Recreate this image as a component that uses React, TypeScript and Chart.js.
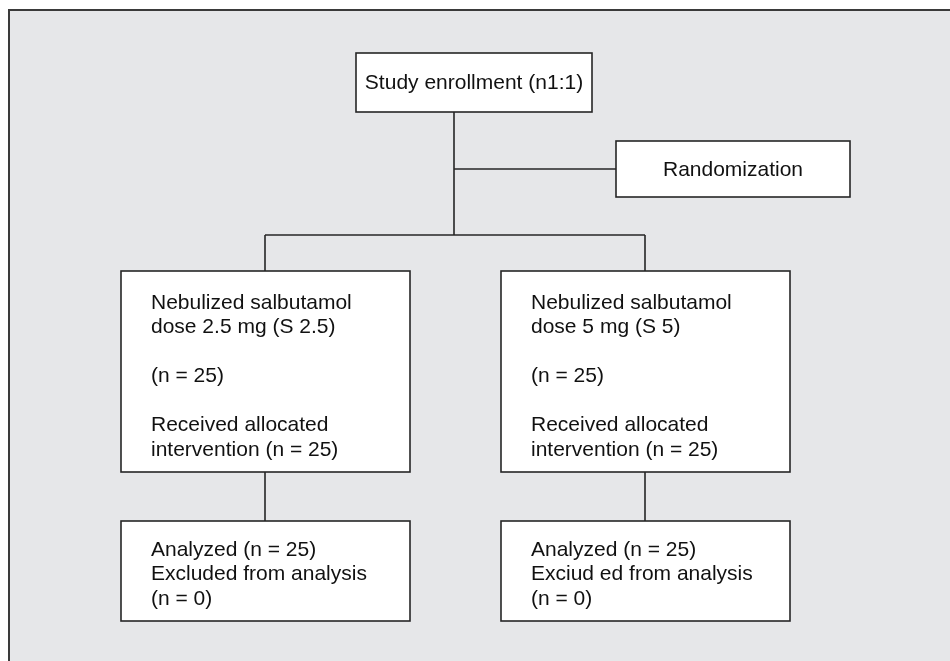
import React, { useEffect, useRef } from "react";
import { Chart, registerables } from "chart.js";

Chart.register(...registerables);

// ---- content ----
const enrollmentText = ["Study enrollment (n1:1)"];
const randomizationText = ["Randomization"];
const armLeftText = [
  "Nebulized salbutamol",
  "dose 2.5 mg (S 2.5)",
  "",
  "(n = 25)",
  "",
  "Received allocated",
  "intervention (n = 25)",
];
const armRightText = [
  "Nebulized salbutamol",
  "dose 5 mg (S 5)",
  "",
  "(n = 25)",
  "",
  "Received allocated",
  "intervention (n = 25)",
];
const analysisLeftText = ["Analyzed (n = 25)", "Excluded from analysis", "(n = 0)"];
const analysisRightText = ["Analyzed (n = 25)", "Exciud ed from analysis", "(n = 0)"];

// ---- layout (in the hidden scales' units) ----
type Box = { x0: number; x1: number; y0: number; y1: number; lines: string[]; align: "center" | "left"; firstLine: number };
const boxes: Box[] = [
  { x0: 356, x1: 592, y0: 53, y1: 112, lines: enrollmentText, align: "center", firstLine: 0 },
  { x0: 616, x1: 850, y0: 141, y1: 197, lines: randomizationText, align: "center", firstLine: 0 },
  { x0: 121, x1: 410, y0: 271, y1: 472, lines: armLeftText, align: "left", firstLine: 31 },
  { x0: 501, x1: 790, y0: 271, y1: 472, lines: armRightText, align: "left", firstLine: 31 },
  { x0: 121, x1: 410, y0: 521, y1: 621, lines: analysisLeftText, align: "left", firstLine: 28 },
  { x0: 501, x1: 790, y0: 521, y1: 621, lines: analysisRightText, align: "left", firstLine: 28 },
];
const trunkX = 454;
const branchY = 235;
const randY = 169;
const leftX = 265;
const rightX = 645;

const connectors = [
  [{ x: trunkX, y: boxes[0].y1 }, { x: trunkX, y: branchY }],
  [{ x: trunkX, y: randY }, { x: boxes[1].x0, y: randY }],
  [{ x: leftX, y: branchY }, { x: rightX, y: branchY }],
  [{ x: leftX, y: branchY }, { x: leftX, y: boxes[2].y0 }],
  [{ x: rightX, y: branchY }, { x: rightX, y: boxes[3].y0 }],
  [{ x: leftX, y: boxes[2].y1 }, { x: leftX, y: boxes[4].y0 }],
  [{ x: rightX, y: boxes[3].y1 }, { x: rightX, y: boxes[5].y0 }],
];

const W = 950;
const H = 661;
const FONT = '21px "Liberation Sans", Arial, Helvetica, sans-serif';
const LINE_H = 24.5;
const LINE_COLOR = "#262626";

const flowPlugin = {
  id: "flow",
  beforeDatasetsDraw(chart: any) {
    const { ctx, scales } = chart;
    const sx = (v: number) => scales.x.getPixelForValue(v);
    const sy = (v: number) => scales.y.getPixelForValue(v);
    ctx.save();
    // panel background
    ctx.fillStyle = "#e6e7e9";
    ctx.fillRect(sx(8), sy(9), sx(W) - sx(8), sy(H) - sy(9));
    ctx.strokeStyle = "#3a3a3a";
    ctx.lineWidth = 2;
    ctx.beginPath();
    ctx.moveTo(sx(9), sy(H));
    ctx.lineTo(sx(9), sy(10));
    ctx.lineTo(sx(W), sy(10));
    ctx.stroke();
    ctx.restore();
  },
  afterDatasetsDraw(chart: any) {
    const { ctx, scales } = chart;
    const sx = (v: number) => scales.x.getPixelForValue(v);
    const sy = (v: number) => scales.y.getPixelForValue(v);
    ctx.save();
    for (const b of boxes) {
      const x0 = sx(b.x0), x1 = sx(b.x1), y0 = sy(b.y0), y1 = sy(b.y1);
      ctx.fillStyle = "#ffffff";
      ctx.fillRect(x0, y0, x1 - x0, y1 - y0);
      ctx.strokeStyle = LINE_COLOR;
      ctx.lineWidth = 1.6;
      ctx.strokeRect(x0, y0, x1 - x0, y1 - y0);
      ctx.fillStyle = "#111111";
      ctx.font = FONT;
      ctx.textBaseline = "middle";
      if (b.align === "center") {
        ctx.textAlign = "center";
        const cy = (y0 + y1) / 2;
        b.lines.forEach((t, i) => ctx.fillText(t, (x0 + x1) / 2, cy + (i - (b.lines.length - 1) / 2) * LINE_H + 1));
      } else {
        ctx.textAlign = "left";
        b.lines.forEach((t, i) => ctx.fillText(t, x0 + 30, y0 + b.firstLine + i * LINE_H + 1));
      }
    }
    ctx.restore();
  },
};

export default function App() {
  const ref = useRef<HTMLCanvasElement | null>(null);
  useEffect(() => {
    if (!ref.current) return;
    const chart = new Chart(ref.current, {
      type: "scatter",
      data: {
        datasets: connectors.map((pts) => ({
          data: pts,
          showLine: true,
          borderColor: LINE_COLOR,
          borderWidth: 1.6,
          pointRadius: 0,
          fill: false,
        })),
      },
      options: {
        animation: false,
        responsive: false,
        maintainAspectRatio: false,
        layout: { padding: 0 },
        plugins: { legend: { display: false }, tooltip: { enabled: false } },
        scales: {
          x: { type: "linear", min: 0, max: W, display: false },
          y: { type: "linear", min: 0, max: H, reverse: true, display: false },
        },
      },
      plugins: [flowPlugin],
    });
    return () => chart.destroy();
  }, []);
  return (
    <div style={{ position: "fixed", left: 0, top: 0, width: W, height: H, background: "#ffffff" }}>
      <canvas ref={ref} width={W} height={H} style={{ display: "block", width: W, height: H }} />
    </div>
  );
}
